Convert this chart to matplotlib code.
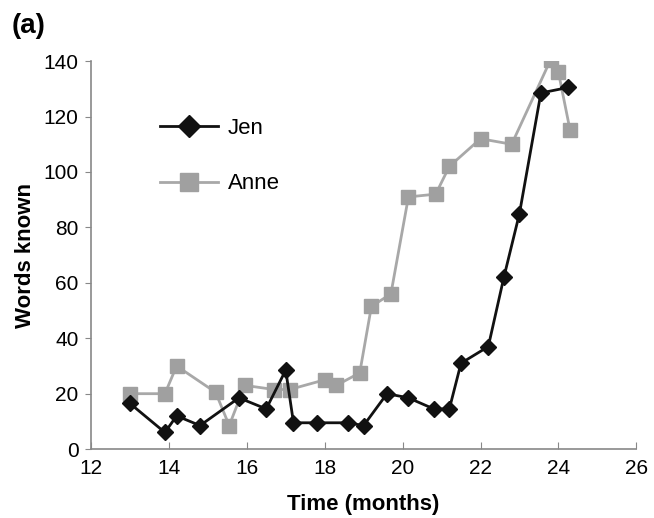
import matplotlib
matplotlib.use("Agg")
import matplotlib.pyplot as plt

plt.rcParams["font.family"] = ["Liberation Sans", "DejaVu Sans"]

# Jen (black diamonds)
jen_month = [13.0, 13.9, 14.2, 14.8, 15.8, 16.5, 17.0, 17.2, 17.8, 18.6, 19.0,
             19.6, 20.15, 20.8, 21.2, 21.5, 22.2, 22.6, 23.0, 23.55, 24.25]
jen_words = [16.5, 6, 12, 8.5, 18.5, 14.5, 28.5, 9.5, 9.5, 9.5, 8.5,
             20, 18.5, 14.5, 14.5, 31, 37, 62, 85, 128.5, 130.5]

# Anne (grey squares)
anne_month = [13.0, 13.9, 14.2, 15.2, 15.55, 15.95, 16.7, 17.1, 18.0, 18.3, 18.9,
              19.2, 19.7, 20.15, 20.85, 21.2, 22.0, 22.8, 23.8, 24.0, 24.3]
anne_words = [20, 20, 30, 20.5, 8.5, 23, 21.5, 21.5, 25, 23, 27.5,
              51.5, 56, 91, 92, 102, 112, 110, 140.5, 136, 115]

x_ticks = [12, 14, 16, 18, 20, 22, 24, 26]
y_ticks = [0, 20, 40, 60, 80, 100, 120, 140]

fig = plt.figure(figsize=(6.54, 5.18), dpi=100)
ax = fig.add_axes([0.139, 0.133, 0.834, 0.749])

ax.plot(anne_month, anne_words, color="#a8a8a8", lw=2.0, marker="s",
        markersize=10, markerfacecolor="#a0a0a0", markeredgecolor="#a0a0a0",
        label="Anne", zorder=2)
ax.plot(jen_month, jen_words, color="#111111", lw=2.0, marker="D",
        markersize=8.5, markerfacecolor="#111111", markeredgecolor="#111111",
        label="Jen", zorder=3)

ax.set_xlim(12, 26)
ax.set_ylim(0, 140)
ax.set_xticks(x_ticks)
ax.set_yticks(y_ticks)
ax.tick_params(axis="x", direction="in", length=5, color="#888888",
               labelsize=15, pad=7)
ax.tick_params(axis="y", direction="out", length=4, color="#888888",
               labelsize=15, pad=5)
for s in ["top", "right"]:
    ax.spines[s].set_visible(False)
for s in ["left", "bottom"]:
    ax.spines[s].set_color("#888888")
    ax.spines[s].set_linewidth(1.2)

ax.set_xlabel("Time (months)", fontsize=16, fontweight="bold", labelpad=12)
ax.set_ylabel("Words known", fontsize=16, fontweight="bold", labelpad=5)

handles, labels = ax.get_legend_handles_labels()
ax.legend(handles[::-1], labels[::-1], loc="upper left",
          bbox_to_anchor=(0.09, 0.905), frameon=False, fontsize=16,
          handlelength=2.6, labelspacing=1.55, handletextpad=0.45,
          markerscale=1.3)

fig.text(0.018, 0.975, "(a)", fontsize=20, fontweight="bold", va="top")

fig.savefig("out.png", dpi=100)
